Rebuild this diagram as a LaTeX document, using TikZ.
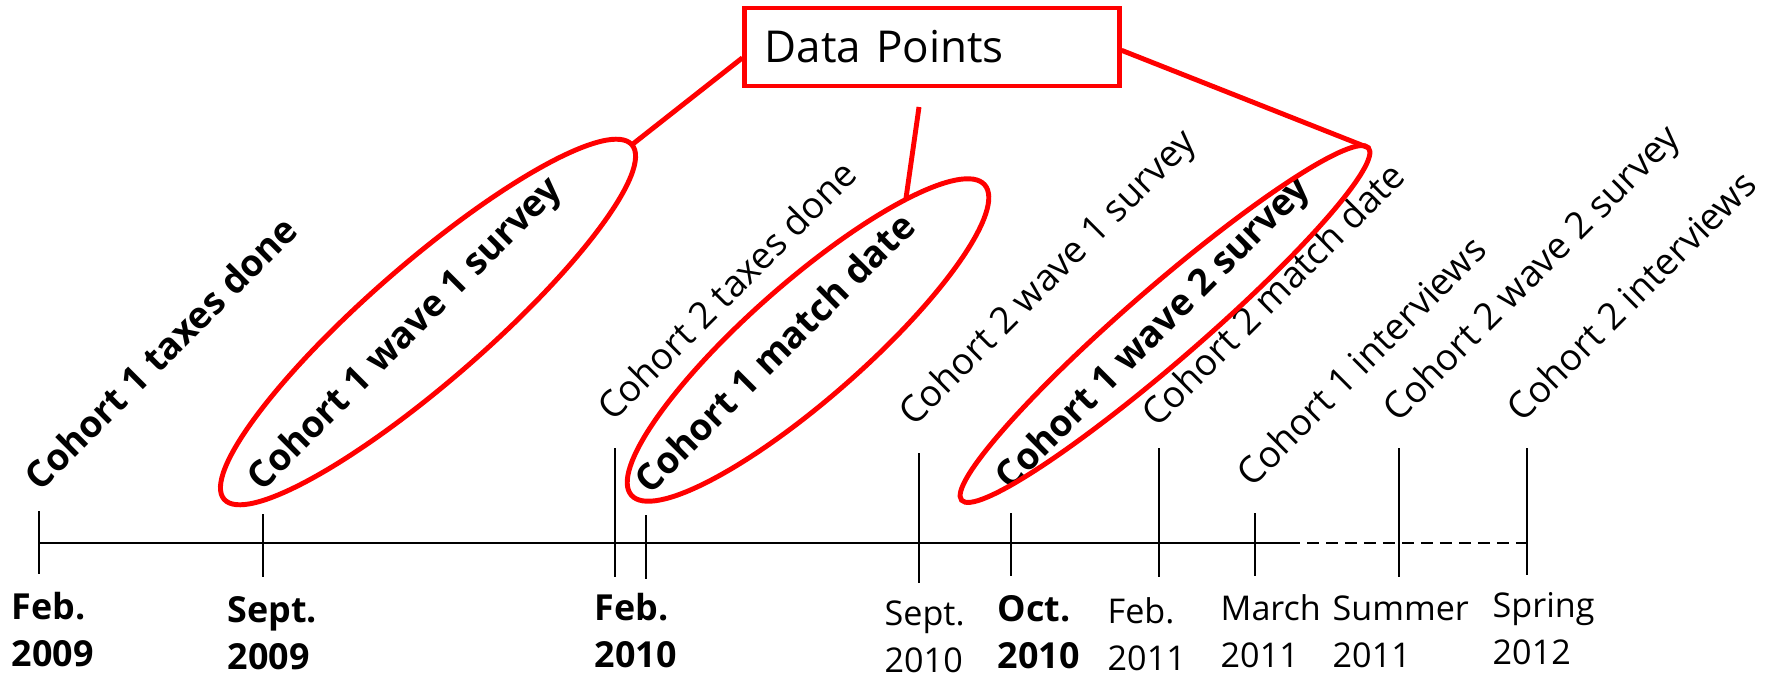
\documentclass[tikz,border=0pt]{standalone}
\usepackage{fontspec}
\setmainfont{Open Sans}
\usetikzlibrary{shapes.geometric,calc}
\begin{document}
\begin{tikzpicture}[x=0.01cm,y=-0.01cm,
  datapt/.style={draw=red, line width=1.4pt, ellipse, inner sep=0pt, outer sep=0pt},
  ev/.style={anchor=base west, rotate=45, inner sep=0pt, font=\fontsize{10.5}{12}\selectfont},
  evb/.style={anchor=base west, rotate=45, inner sep=0pt, font=\fontsize{10.5}{12}\selectfont\bfseries},
  dt/.style={anchor=base west, inner sep=0pt, align=left, font=\fontsize{9.7}{13.1}\selectfont},
  dtb/.style={anchor=base west, inner sep=0pt, align=left, font=\fontsize{10.2}{13.1}\selectfont\bfseries},
  tickline/.style={line width=0.45pt},
  axisline/.style={line width=0.6pt},
  callout/.style={red, line width=1.4pt}]
\useasboundingbox[fill=white] (0,0) rectangle (1777,676);

% timeline
\coordinate (t0) at (39,543);
\coordinate (tDash) at (1288,543);
\coordinate (tEnd) at (1527,543);
\draw[axisline] (t0) -- (tDash);
\draw[axisline, dash pattern=on 3.4pt off 2pt] (tDash) -- (tEnd);
\foreach \x/\a/\b in {39/511/574, 263/514/577, 615/448/577, 646/515/579,
  919/453/583, 1011/513/576, 1159/448/577, 1255/513/576, 1399/448/577, 1527/448/575}
  \draw[tickline] (\x,\a) -- (\x,\b);

% date labels (anchored at the baseline of the second line)
\node[dtb] (d1) at (11,666) {Feb.\\2009};
\node[dtb] (d2) at (227,669) {Sept.\\2009};
\node[dtb] (d3) at (594,667) {Feb.\\2010};
\node[dt] (d4) at (884,672) {Sept.\\2010};
\node[dtb] (d5) at (997,668) {Oct.\\2010};
\node[dt] (d6) at (1107,670) {Feb.\\2011};
\node[dt] (d7) at (1220,667) {March\\2011};
\node[dt] (d8) at (1332,667) {Summer\\2011};
\node[dt] (d9) at (1492,664) {Spring\\2012};

% event labels
\node[evb] (l1) at (40,493) {Cohort 1 taxes done};
\node[evb] (l2) at (262,493) {Cohort 1 wave 1 survey};
\node[ev] (l3) at (613,423) {Cohort 2 taxes done};
\node[evb] (l4) at (650,496) {Cohort 1 match date};
\node[ev] (l5) at (914,428) {Cohort 2 wave 1 survey};
\node[evb] (l6) at (1010,492) {Cohort 1 wave 2 survey};
\node[ev] (l7) at (1157,429) {Cohort 2 match date};
\node[ev] (l8) at (1252,489) {Cohort 1 interviews};
\node[ev] (l9) at (1398,424) {Cohort 2 wave 2 survey};
\node[ev] (l10) at (1522,424) {Cohort 2 interviews};

% highlighted data points
\node[datapt, minimum width=5.40cm, minimum height=1.18cm, rotate=41] (e1) at (428,322) {};
\node[datapt, minimum width=4.70cm, minimum height=1.16cm, rotate=41.3] (e2) at (808,340) {};
\node[datapt, minimum width=5.38cm, minimum height=0.74cm, rotate=40.9] (e3) at (1165,324) {};

% callout box
\node[draw=red, line width=1.4pt, minimum width=3.74cm, minimum height=0.78cm,
  text width=3.34cm, align=left, inner xsep=0.2cm, inner ysep=0pt,
  font=\fontsize{12.5}{15}\selectfont] (dp) at (932,47) {Data Points};
\coordinate (dpL) at ($(dp.north west)!0.63!(dp.south west)$);
\coordinate (dpR) at ($(dp.north east)!0.54!(dp.south east)$);
\coordinate (mtop) at (919,107);
\draw[callout] (dpL) -- (e1.east);
\draw[callout] (mtop) -- (e2.north east);
\draw[callout] (dpR) -- (e3.east);
\end{tikzpicture}
\end{document}
